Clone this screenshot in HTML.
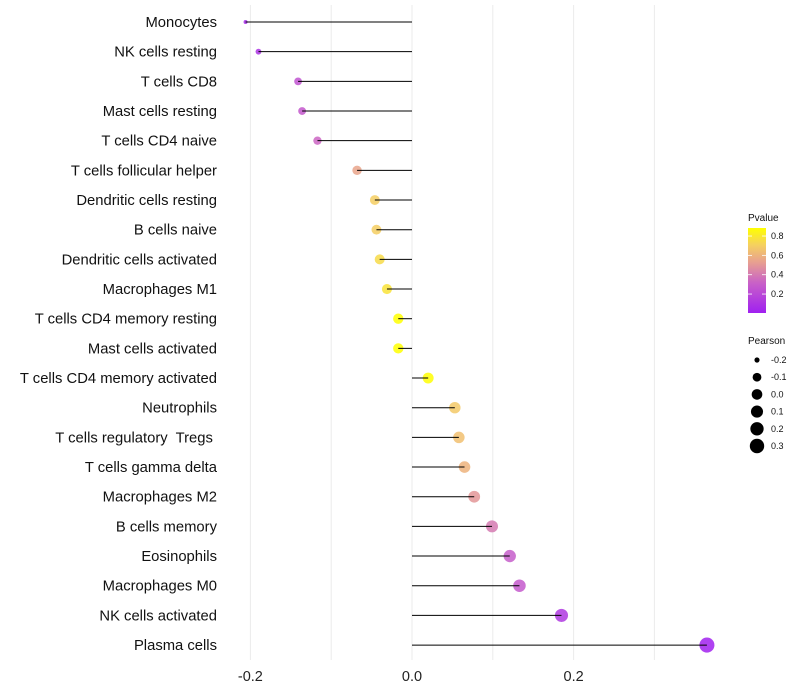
<!DOCTYPE html>
<html><head><meta charset="utf-8">
<style>
body{margin:0;background:#fff;}
svg{display:block;font-family:"Liberation Sans",Arial,sans-serif;}
text{white-space:pre;}
</style></head>
<body>
<svg id="chart" width="800" height="700">
<defs>
<linearGradient id="pgrad" x1="0" y1="1" x2="0" y2="0">
<stop offset="0" stop-color="#A020F0"/>
<stop offset="0.35" stop-color="#C860C8"/>
<stop offset="0.6" stop-color="#E8A090"/>
<stop offset="0.8" stop-color="#F5D060"/>
<stop offset="1" stop-color="#FFFF00"/>
</linearGradient>
</defs>
</svg>
<script>
const categories=["Monocytes","NK cells resting","T cells CD8","Mast cells resting","T cells CD4 naive","T cells follicular helper","Dendritic cells resting","B cells naive","Dendritic cells activated","Macrophages M1","T cells CD4 memory resting","Mast cells activated","T cells CD4 memory activated","Neutrophils","T cells regulatory  Tregs ","T cells gamma delta","Macrophages M2","B cells memory","Eosinophils","Macrophages M0","NK cells activated","Plasma cells"];
const pearson=[-0.206,-0.19,-0.141,-0.136,-0.117,-0.068,-0.046,-0.044,-0.040,-0.031,-0.017,-0.017,0.020,0.053,0.058,0.065,0.077,0.099,0.121,0.133,0.185,0.365];
const pvalues=[0.05,0.1,0.25,0.27,0.33,0.55,0.7,0.7,0.75,0.78,0.9,0.9,0.88,0.68,0.65,0.6,0.5,0.4,0.3,0.28,0.12,0.01];
const xTicks=[-0.2,0.0,0.2];
const xTickLabels=["-0.2","0.0","0.2"];
const xMinor=[-0.1,0.1,0.3];
const pTicks=[0.2,0.4,0.6,0.8];
const sizeTicks=[-0.2,-0.1,0.0,0.1,0.2,0.3];

const NS="http://www.w3.org/2000/svg";
const svg=document.getElementById('chart');
const X=v=>412+v*808;
const Y=i=>22+i*29.67;
const R=v=>2+Math.sqrt(Math.max(0,v+0.206))*7.3;
const stops=[[0,[160,32,240]],[0.35,[200,96,200]],[0.6,[232,160,144]],[0.8,[245,208,96]],[1,[255,255,0]]];
function col(p){let t=(p-0.004)/(0.883-0.004);t=Math.max(0,Math.min(1,t));
 for(let k=1;k<stops.length;k++){if(t<=stops[k][0]){const a=stops[k-1],b=stops[k];const f=(t-a[0])/(b[0]-a[0]);
 const c=a[1].map((x,j)=>Math.round(x+(b[1][j]-x)*f));return `rgb(${c})`;}}return 'rgb(255,255,0)';}
function el(tag,attrs,parent){const e=document.createElementNS(NS,tag);for(const k in attrs)e.setAttribute(k,attrs[k]);(parent||svg).appendChild(e);return e;}

xTicks.concat(xMinor).forEach(v=>{
 const g=el('line',{x1:X(v),x2:X(v),y1:5,y2:660,stroke:'#ebebeb','stroke-width':1});
 
 
});
xTicks.forEach((v,i)=>{
 const t=el('text',{x:X(v),y:681,'text-anchor':'middle','font-size':14.5,fill:'#222'});
 t.textContent=xTickLabels[i];
 
 
});
categories.forEach((c,i)=>{
 const t=el('text',{x:217,y:Y(i)+5,'text-anchor':'end','font-size':14.8,fill:'#111'});
 t.textContent=c;
 
 
 const p=el('circle',{cx:X(pearson[i]),cy:Y(i),r:R(pearson[i]),fill:col(pvalues[i]),'fill-opacity':0.85});
 
 
 const s=el('line',{x1:X(pearson[i]),x2:X(0),y1:Y(i),y2:Y(i),stroke:'#000','stroke-width':1});
 
 
});
const pt=el('text',{x:748,y:221,'font-size':10,fill:'#111'});pt.textContent='Pvalue';


const bar=el('rect',{x:748,y:228,width:18,height:85,fill:'url(#pgrad)'});


pTicks.forEach(p=>{
 const y=313-(p-0.004)/(0.879)*85;
 el('line',{x1:748,x2:752,y1:y,y2:y,stroke:'#fff','stroke-width':0.8});
 el('line',{x1:762,x2:766,y1:y,y2:y,stroke:'#fff','stroke-width':0.8});
 const t=el('text',{x:771,y:y+3,'font-size':9,fill:'#111'});t.textContent=p.toFixed(1);
 
 
});
const st=el('text',{x:748,y:344,'font-size':10,fill:'#111'});st.textContent='Pearson';


sizeTicks.forEach((v,i)=>{
 const y=360+i*17.2;
 const c=el('circle',{cx:757,cy:y,r:R(v),fill:'#000'});
 
 
 const t=el('text',{x:771,y:y+3,'font-size':9,fill:'#111'});t.textContent=v.toFixed(1);
 
 
});
</script>
</body></html>
